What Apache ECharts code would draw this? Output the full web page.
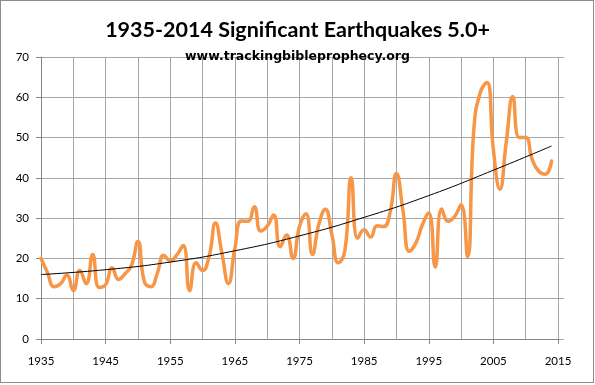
<!DOCTYPE html>
<html><head><meta charset="utf-8">
<script src="https://cdn.jsdelivr.net/npm/echarts@6/dist/echarts.min.js"></script>
<style>
html,body{margin:0;padding:0;background:#fff}
#w{position:relative;width:595px;height:385px}
#c{width:595px;height:385px}
#b{position:absolute;left:0;top:0;width:592px;height:381px;border:1px solid #8c8c8c;pointer-events:none}
</style>
</head><body>
<div id="w"><div id="c"></div><div id="b"></div></div>
<script>
const years = [1935,1936,1937,1938,1939,1940,1941,1942,1943,1944,1945,1946,1947,1948,1949,
1950,1951,1952,1953,1954,1955,1956,1957,1958,1959,1960,1961,1962,1963,1964,
1965,1966,1967,1968,1969,1970,1971,1972,1973,1974,1975,1976,1977,1978,1979,
1980,1981,1982,1983,1984,1985,1986,1987,1988,1989,1990,1991,1992,1993,1994,
1995,1996,1997,1998,1999,2000,2001,2002,2003,2004,2005,2006,2007,2008,2009,
2010,2011,2012,2013,2014];
const quakes = [20,16.5,13,13.7,15.8,12,17,13.7,21,12.8,13.5,17.7,14.8,16.2,18.3,
24.2,14.2,13,16.3,20.8,19.4,20.8,23.2,12,18.9,17,20.4,28.8,21.2,13.8,
22.5,29.3,29.2,32.8,26.8,28,30.8,22.9,25.8,20,27.9,31.1,21,28.5,32.2,
26,18.9,21.7,40,25,27.1,25.3,28.1,27.9,31.3,41.1,32,21.8,23.8,28.3,
31.3,17.9,32.3,29.2,30.4,33.3,20.4,52.5,61.3,63.7,47,37.2,49,60.2,50,
50,44.6,41.7,40.9,44.2];
const trendYears = [1935,1945,1955,1965,1975,1985,1995,2005,2014];
const trendValues = [16,17.2,19.1,21.9,25.6,30.2,35.6,41.9,47.9];
const xTicks = [1935,1945,1955,1965,1975,1985,1995,2005,2015];
const yTicks = [0,10,20,30,40,50,60,70];

const base = xTicks[0];
const xStep = xTicks[1]-xTicks[0];
const yStep = yTicks[1]-yTicks[0];
const gridColor = '#a6a6a6';
const axisColor = '#868686';
const labelFont = {fontFamily:'Lato', fontSize:11.5, color:'#000'};

const chart = echarts.init(document.getElementById('c'), null, {renderer:'canvas'});
chart.setOption({
  animation:false,
  backgroundColor:'#fff',
  title:[
    {text:'1935-2014 Significant Earthquakes 5.0+', left:'center', top:14,
     textStyle:{fontFamily:'Lato', fontWeight:'bold', fontSize:21.5, color:'#000'}},
    {text:'www.trackingbibleprophecy.org', left:'center', top:45,
     textStyle:{fontFamily:'DejaVu Sans', fontWeight:'bold', fontSize:12.5, color:'#000'}}
  ],
  grid:[
    {left:41, right:31, top:57, bottom:46},
    {left:41, right:37, top:57, bottom:46}
  ],
  xAxis:[
    {gridIndex:0, type:'value', min:0, max:1, show:false},
    {gridIndex:1, type:'value', min:0, max:xTicks[xTicks.length-1]-base, interval:xStep,
     axisLine:{show:true, lineStyle:{color:axisColor}},
     axisTick:{show:true, length:5, lineStyle:{color:axisColor}},
     axisLabel:Object.assign({margin:16, formatter:v=>String(v+base)}, labelFont),
     splitLine:{show:true, lineStyle:{color:gridColor, width:1}},
     minorTick:{show:false, splitNumber:2},
     minorSplitLine:{show:true, lineStyle:{color:gridColor, width:1}}}
  ],
  yAxis:[
    {gridIndex:0, type:'value', min:yTicks[0], max:yTicks[yTicks.length-1], interval:yStep,
     axisLine:{show:true, lineStyle:{color:axisColor}},
     axisTick:{show:true, length:5, lineStyle:{color:axisColor}},
     axisLabel:Object.assign({margin:12}, labelFont),
     splitLine:{show:true, lineStyle:{color:gridColor, width:1}}},
    {gridIndex:1, type:'value', min:yTicks[0], max:yTicks[yTicks.length-1], show:false, splitLine:{show:false}}
  ],
  series:[
    {type:'line', xAxisIndex:1, yAxisIndex:1, smooth:0.5, symbol:'none',
     data:years.map((y,i)=>[y-base, quakes[i]]),
     lineStyle:{color:'#F79646', width:3.5, cap:'round', join:'round'}},
    {type:'line', xAxisIndex:1, yAxisIndex:1, smooth:true, symbol:'none',
     data:trendYears.map((y,i)=>[y-base, trendValues[i]]),
     lineStyle:{color:'#000', width:1}}
  ]
});
</script>
</body></html>
